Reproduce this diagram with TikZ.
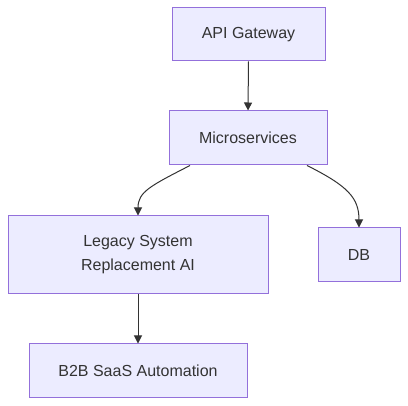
\documentclass[tikz,border=0pt]{standalone}
\usepackage{fontspec}
\setmainfont{Liberation Sans}
\usetikzlibrary{arrows.meta}

\definecolor{boxfill}{HTML}{ECECFF}
\definecolor{boxline}{HTML}{9370DB}
\definecolor{ink}{HTML}{333333}

\tikzset{
	box/.style={draw=boxline, fill=boxfill, line width=0.75pt, text=ink, inner sep=0pt,
		align=center, font=\fontsize{12}{18}\selectfont},
	link/.style={draw=ink, line width=0.75pt, -{Triangle[length=6pt,width=6pt]}}
}

\begin{document}
\begin{tikzpicture}[x=0.75pt,y=-0.75pt]
	\useasboundingbox (0,0) rectangle (408,406);

	\node[box, minimum width=114.75pt, minimum height=39.75pt] (api) at (248.5,34.5) {API Gateway};
	\node[box, minimum width=118.5pt, minimum height=40.5pt] (micro) at (248,138) {Microservices};
	\node[box, minimum width=195pt, minimum height=58.5pt] (legacy) at (138,255) {Legacy System\\Replacement AI};
	\node[box, minimum width=61.5pt, minimum height=40.5pt] (db) at (359,255) {DB};
	\node[box, minimum width=163.5pt, minimum height=40.5pt] (b2b) at (138,371) {B2B SaaS Automation};

	\draw[link] (api.south) -- (micro.north);
	\draw[link] ([xshift=-43.5pt]micro.south) .. controls (150,186) and (138,192) .. (legacy.north);
	\draw[link] ([xshift=44.25pt]micro.south) .. controls (348,186) and (359,198) .. (db.north);
	\draw[link] (legacy.south) -- (b2b.north);
\end{tikzpicture}
\end{document}
